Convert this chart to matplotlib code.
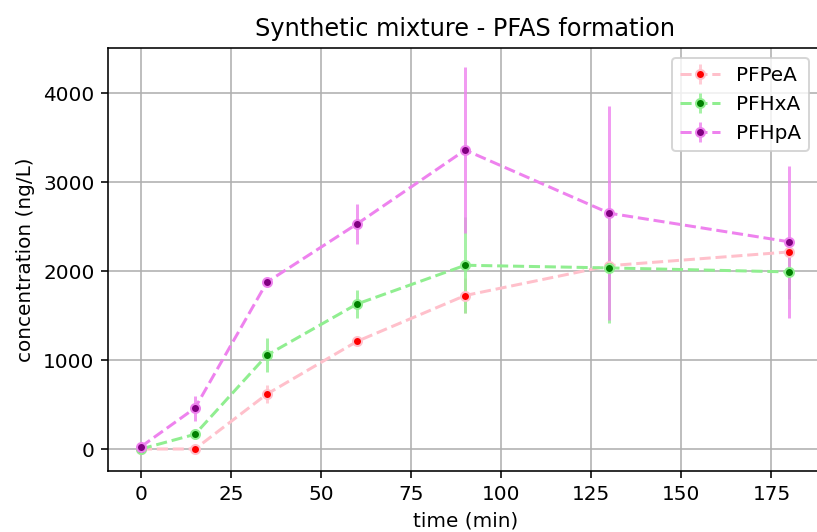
import numpy as np
import matplotlib.pyplot as plt

# sampling times (min)
time = [0, 15, 35, 60, 90, 130, 180]

# PFAS formation, mean and std (ng/L)
pfpea = [0, 0, 618, 1210, 1725, 2060, 2215]
pfpea_sd = [20, 30, 100, 50, 200, 300, 150]

pfhxa = [0, 165, 1055, 1630, 2065, 2035, 1990]
pfhxa_sd = [20, 50, 195, 155, 540, 620, 300]

pfhpa = [25, 460, 1876, 2530, 3360, 2650, 2328]
pfhpa_sd = [30, 140, 40, 225, 930, 1200, 855]

series = [
    ("PFPeA", pfpea, pfpea_sd, "pink", "red"),
    ("PFHxA", pfhxa, pfhxa_sd, "lightgreen", "green"),
    ("PFHpA", pfhpa, pfhpa_sd, "violet", "purple"),
]

fig = plt.figure(figsize=(817 / 144, 532 / 144), dpi=144)
ax = fig.add_axes([0.1328, 0.1152, 0.8732, 0.7945])

for name, y, sd, lc, mc in series:
    eb = ax.errorbar(time, y, yerr=sd, fmt="--o", color=lc, ecolor=lc,
                     markerfacecolor=mc, markeredgecolor=lc, markersize=4.5,
                     label=name)
    for col in eb[2]:
        col.set_alpha(0.8)

ax.set_xlim(-9, 189)
ax.set_ylim(-244, 4506)
ax.set_xticks(np.arange(0, 176, 25))
ax.grid(True)
ax.spines["right"].set_visible(False)
ax.set_title("Synthetic mixture - PFAS formation")
ax.set_xlabel("time (min)")
ax.set_ylabel("concentration (ng/L)")
ax.legend(loc="upper right", bbox_to_anchor=(0.9826, 0.9763), borderaxespad=0)

fig.savefig("out.png", dpi=144)
